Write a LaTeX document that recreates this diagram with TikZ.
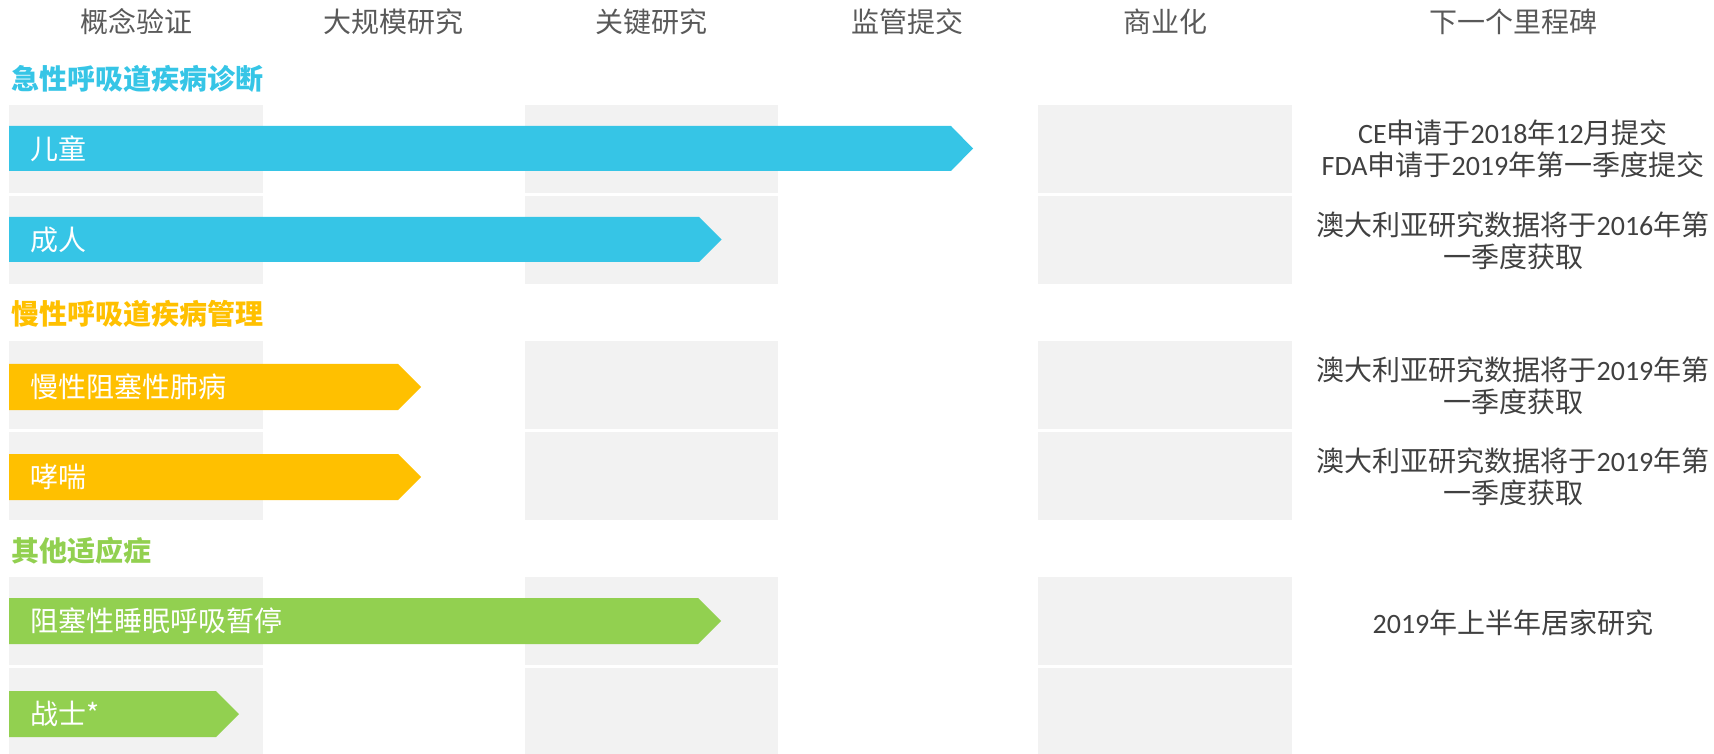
\documentclass[tikz,border=0pt]{standalone}
\usepackage{fontspec}
\setmainfont{Noto Sans CJK SC}
\newfontfamily\lat{Carlito}
\definecolor{cblue}{HTML}{36C5E6}
\definecolor{cyel}{HTML}{FFC000}
\definecolor{cgreen}{HTML}{92D050}
\definecolor{boxgray}{HTML}{F2F2F2}
\definecolor{headgray}{HTML}{595959}
\definecolor{notegray}{HTML}{404040}
\tikzset{
  graybox/.style={fill=boxgray, draw=none},
  colhead/.style={text=headgray, inner sep=0, font=\fontsize{14}{16}\selectfont},
  sechead/.style={anchor=west, inner sep=0, font=\fontsize{14}{16}\selectfont\bfseries},
  barlabel/.style={anchor=west, inner sep=0, text=white, font=\fontsize{14}{16}\selectfont},
  note/.style={align=center, inner sep=0, text=notegray, font=\fontsize{14}{16}\selectfont},
}
\begin{document}
\begin{tikzpicture}[x=0.5pt, y=-0.5pt]
\useasboundingbox (0,0) rectangle (1714,754);
% gray boxes
\foreach \yt/\yb in {105/193.5, 196.5/284.5, 341/429, 432/519.5, 577/665, 668/754}{
  \foreach \xl/\xr in {9/263, 525/778, 1038/1292}{
    \fill[graybox] (\xl,\yt) rectangle (\xr,\yb);
  }
}
% column headers
\node[colhead] (h1) at (136.5,22) {概念验证};
\node[colhead] (h2) at (393.5,22) {大规模研究};
\node[colhead] (h3) at (651,22) {关键研究};
\node[colhead] (h4) at (907.5,22) {监管提交};
\node[colhead] (h5) at (1165,22) {商业化};
\node[colhead] (h6) at (1513,22) {下一个里程碑};
% section headers
\node[sechead, text=cblue] (s1) at (11,78.5) {急性呼吸道疾病诊断};
\node[sechead, text=cyel] (s2) at (11,314) {慢性呼吸道疾病管理};
\node[sechead, text=cgreen] (s3) at (11,551) {其他适应症};
% bars
\fill[cblue] (9,126) -- (951,126) -- (973,148.5) -- (951,171) -- (9,171) -- cycle;
\node[barlabel] (b1) at (30,148.5) {儿童};
\fill[cblue] (9,217) -- (699,217) -- (721.5,239.5) -- (699,262) -- (9,262) -- cycle;
\node[barlabel] (b2) at (30,239.5) {成人};
\fill[cyel] (9,364) -- (398,364) -- (421,387) -- (398,410) -- (9,410) -- cycle;
\node[barlabel] (b3) at (30,387) {慢性阻塞性肺病};
\fill[cyel] (9,454) -- (398,454) -- (421,477) -- (398,500) -- (9,500) -- cycle;
\node[barlabel] (b4) at (30,477) {哮喘};
\fill[cgreen] (9,598) -- (698,598) -- (721,621) -- (698,644) -- (9,644) -- cycle;
\node[barlabel] (b5) at (30,621) {阻塞性睡眠呼吸暂停};
\fill[cgreen] (9,691) -- (216,691) -- (239,714) -- (216,737) -- (9,737) -- cycle;
\node[barlabel] (b6) at (30,714) {战士*};
% notes
\node[note] (n1) at (1513,149) {{\lat CE}申请于{\lat 2018}年{\lat 12}月提交\\{\lat FDA}申请于{\lat 2019}年第一季度提交};
\node[note] (n2) at (1513,240.5) {澳大利亚研究数据将于{\lat 2016}年第\\一季度获取};
\node[note] (n3) at (1513,386) {澳大利亚研究数据将于{\lat 2019}年第\\一季度获取};
\node[note] (n4) at (1513,476.5) {澳大利亚研究数据将于{\lat 2019}年第\\一季度获取};
\node[note] (n5) at (1513,623) {{\lat 2019}年上半年居家研究};
\end{tikzpicture}
\end{document}
